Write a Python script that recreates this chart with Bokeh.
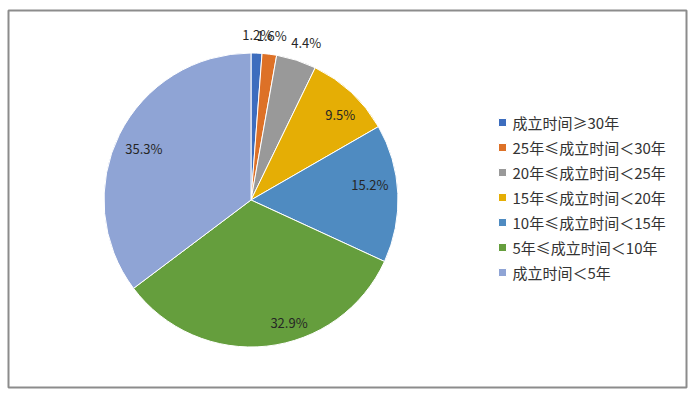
import numpy as np
from bokeh.plotting import figure
from bokeh.models import ColumnDataSource, Range1d, Legend, LegendItem
from bokeh.core.properties import value
from bokeh.embed import file_html
from bokeh.resources import INLINE

# ---- data ----
categories = ["成立时间≥30年", "25年≤成立时间＜30年", "20年≤成立时间＜25年",
              "15年≤成立时间＜20年", "10年≤成立时间＜15年", "5年≤成立时间＜10年",
              "成立时间＜5年"]
shares = [1.2, 1.6, 4.4, 9.5, 15.2, 32.9, 35.3]
labels = ["1.2%", "1.6%", "4.4%", "9.5%", "15.2%", "32.9%", "35.3%"]

# ---- style ----
colors = ["#3D6DBE", "#DD7127", "#999999", "#E5AE05", "#4F8BC1", "#659E3D", "#8FA4D5"]
R = 147.0
label_factor = [1.13, 1.13, 1.13, 0.83, 0.83, 0.83, 0.83]
label_dx = [0, 0, 4, 6, -3, 25, 2]
label_dy = [0, 0, 0, 4, -10, 1, 2.5]

vals = np.array(shares, dtype=float)
frac = vals / vals.sum()
cum_end = np.cumsum(frac)
cum_start = cum_end - frac
start_angle = np.pi / 2 - 2 * np.pi * cum_end
end_angle = np.pi / 2 - 2 * np.pi * cum_start
mid = (start_angle + end_angle) / 2
lx = np.array(label_factor) * R * np.cos(mid)
ly = np.array(label_factor) * R * np.sin(mid)

src = ColumnDataSource(dict(cat=categories, start=start_angle, end=end_angle,
                            color=colors, lx=lx, ly=ly, lab=labels,
                            dx=label_dx, dy=label_dy))

p = figure(width=696, height=394, output_backend="svg", toolbar_location=None,
           x_range=Range1d(-242.5, 435.5), y_range=Range1d(-187.5, 189.5),
           min_border_left=8, min_border_right=10, min_border_top=10, min_border_bottom=7)
p.axis.visible = False
p.grid.visible = False
p.outline_line_color = "#8C8C8C"
p.outline_line_width = 2
p.background_fill_color = "white"
p.border_fill_color = "white"

w = p.wedge(x=0, y=0, radius=R, start_angle="start", end_angle="end",
            fill_color="color", line_color="white", line_width=1, source=src)

p.text(x="lx", y="ly", text="lab", x_offset="dx", y_offset="dy", source=src,
       text_font=value("Noto Sans CJK SC"), text_font_size="13px",
       text_color="#262626", text_align="center", text_baseline="middle")

items = [LegendItem(label=c, renderers=[w], index=i) for i, c in enumerate(categories)]
legend = Legend(items=items, location=(488.5, 104.5), orientation="vertical",
                glyph_width=10, glyph_height=10, label_standoff=6, spacing=4,
                label_height=20, padding=0, margin=0,
                label_text_font="Noto Sans CJK SC", label_text_font_size="15px",
                label_text_color="#333333", border_line_alpha=0,
                background_fill_alpha=0)
p.add_layout(legend)

open("out.html", "w").write(file_html(p, INLINE))
